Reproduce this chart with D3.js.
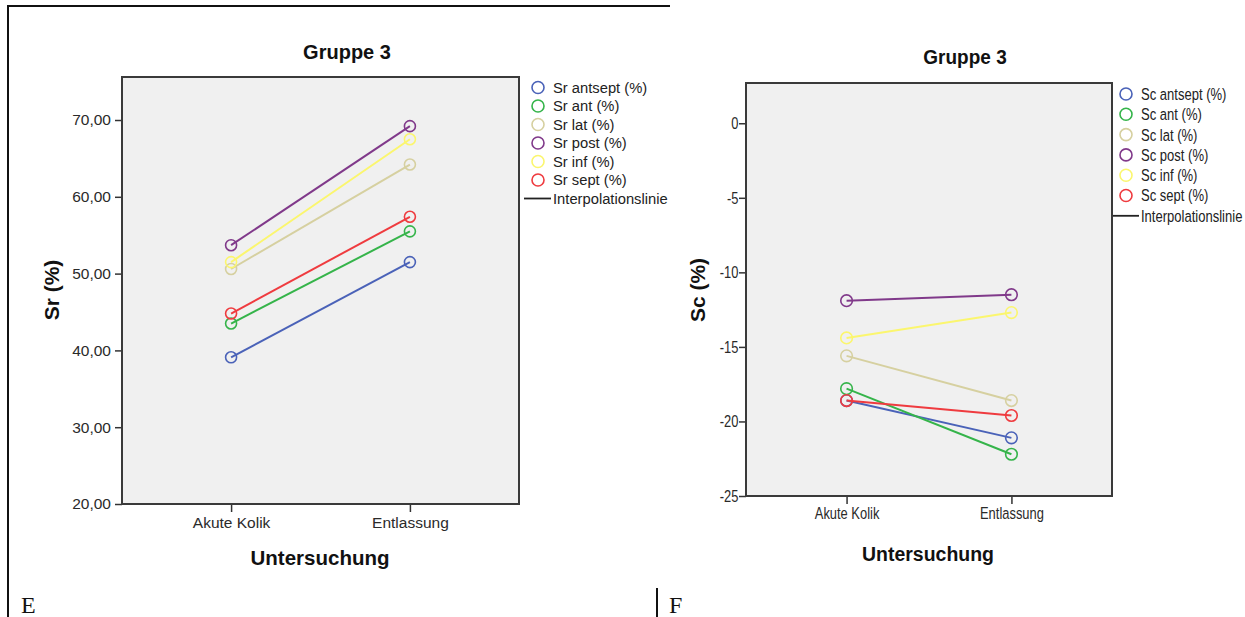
<!DOCTYPE html>
<html>
<head>
<meta charset="utf-8">
<script src="https://cdn.jsdelivr.net/npm/d3@7"></script>
<style>
  html, body { margin: 0; padding: 0; background: #ffffff; }
  svg { display: block; font-family: "Liberation Sans", Arial, sans-serif; }
</style>
</head>
<body>
<svg id="fig" width="1245" height="617"></svg>
<script>
// Visits on the x axis
const visits = ["Akute Kolik", "Entlassung"];

// Myocardial segments (one line per segment)
const segments = ["antsept", "ant", "lat", "post", "inf", "sept"];
const segmentColors = ["#4a62b8", "#35b44a", "#d6d0a0", "#80398a", "#fbf66e", "#ef3b3f"];

// Panel E: radial strain Sr (%) – mean per segment, [Akute Kolik, Entlassung]
const srAntsept = [39.1, 51.5];
const srAnt     = [43.5, 55.5];
const srLat     = [50.6, 64.2];
const srPost    = [53.7, 69.2];
const srInf     = [51.5, 67.5];
const srSept    = [44.8, 57.4];
const srTicks   = [20, 30, 40, 50, 60, 70];

// Panel F: circumferential strain Sc (%) – mean per segment
const scAntsept = [-18.6, -21.1];
const scAnt     = [-17.8, -22.2];
const scLat     = [-15.6, -18.6];
const scPost    = [-11.9, -11.5];
const scInf     = [-14.4, -12.7];
const scSept    = [-18.6, -19.6];
const scTicks   = [-25, -20, -15, -10, -5, 0];

const svg = d3.select("#fig");

// Place a text label, optionally rotated and horizontally squeezed
function label(g, x, y, str, o) {
  o = o || {};
  const t = g.append("text")
    .attr("transform", `translate(${x},${y}) rotate(${o.rotate || 0}) scale(${o.sx || 1},1)`)
    .attr("text-anchor", o.anchor || "start")
    .attr("font-size", o.size || 14)
    .attr("font-weight", o.weight || "normal")
    .attr("fill", o.fill || "#222")
    .text(str);
  if (o.dy) t.attr("dy", o.dy);
  return t;
}

function panel(cfg) {
  const g = svg.append("g");
  const x = d3.scalePoint().domain(visits).range([cfg.x0, cfg.x1]).padding(0.61);
  const y = d3.scaleLinear().domain(cfg.domain).range([cfg.y1, cfg.y0]);

  // plot background
  g.append("rect")
    .attr("x", cfg.x0).attr("y", cfg.y0)
    .attr("width", cfg.x1 - cfg.x0).attr("height", cfg.y1 - cfg.y0)
    .attr("fill", "#f0f0f0");

  // y axis
  const ya = g.append("g").attr("transform", `translate(${cfg.x0},0)`)
    .call(d3.axisLeft(y).tickValues(cfg.ticks).tickFormat(cfg.fmt)
      .tickSize(7).tickSizeOuter(0).tickPadding(cfg.yPad));
  ya.select(".domain").remove();
  ya.selectAll(".tick line").attr("stroke", "#333").attr("stroke-width", 1.5);
  ya.selectAll(".tick text").attr("font-size", cfg.tickSize).attr("fill", "#2a2a2a")
    .attr("font-family", "Liberation Sans, Arial, sans-serif")
    .attr("transform", `scale(${cfg.sx},1)`);

  // x axis
  const xa = g.append("g").attr("transform", `translate(0,${cfg.y1})`)
    .call(d3.axisBottom(x).tickSize(8).tickSizeOuter(0).tickPadding(cfg.xPad));
  xa.select(".domain").remove();
  xa.selectAll(".tick line").attr("stroke", "#333").attr("stroke-width", 1.5);
  xa.selectAll(".tick text").attr("font-size", cfg.tickSize).attr("fill", "#2a2a2a")
    .attr("font-family", "Liberation Sans, Arial, sans-serif")
    .attr("transform", `scale(${cfg.sx},1)`);

  // plot frame
  g.append("rect")
    .attr("x", cfg.x0).attr("y", cfg.y0)
    .attr("width", cfg.x1 - cfg.x0).attr("height", cfg.y1 - cfg.y0)
    .attr("fill", "none").attr("stroke", "#3a3a3a").attr("stroke-width", 2);

  // series lines and markers
  const line = d3.line().x((d, i) => x(visits[i])).y(d => y(d));
  cfg.series.forEach((vals, k) => {
    g.append("path").datum(vals)
      .attr("d", line).attr("fill", "none")
      .attr("stroke", segmentColors[k]).attr("stroke-width", 2);
    g.selectAll(null).data(vals).enter().append("circle")
      .attr("cx", (d, i) => x(visits[i])).attr("cy", d => y(d))
      .attr("r", cfg.r).attr("fill", "none")
      .attr("stroke", segmentColors[k]).attr("stroke-width", 1.6);
  });

  // titles
  label(g, cfg.titleX, cfg.titleY, "Gruppe 3", { size: 20, weight: "bold", anchor: "middle", fill: "#111", sx: cfg.titleSx });
  label(g, cfg.xtX, cfg.xtY, "Untersuchung", { size: 20.5, weight: "bold", anchor: "middle", fill: "#111", sx: cfg.titleSx });
  label(g, cfg.ytX, cfg.ytY, cfg.yTitle, { size: 21, weight: "bold", anchor: "middle", fill: "#111", rotate: -90 });

  // legend
  const lg = g.append("g");
  cfg.legendNames.forEach((name, k) => {
    const cy = cfg.legY + k * cfg.legStep;
    lg.append("circle").attr("cx", cfg.legCx).attr("cy", cy).attr("r", 6)
      .attr("fill", "none").attr("stroke", segmentColors[k]).attr("stroke-width", 1.6);
    label(lg, cfg.legTx, cy, name, { size: cfg.legSize, sx: cfg.legSx, dy: "0.36em", fill: "#222" });
  });
  const ly = cfg.legY + segments.length * cfg.legStep;
  lg.append("line").attr("x1", cfg.legLx0).attr("x2", cfg.legTx - 2)
    .attr("y1", ly).attr("y2", ly).attr("stroke", "#222").attr("stroke-width", 1.8);
  label(lg, cfg.legTx, ly, "Interpolationslinie", { size: cfg.legSize, sx: cfg.legSx, dy: "0.36em", fill: "#222" });
}

const commaFmt = d => d3.format(".2f")(d).replace(".", ",");
const plainFmt = d => String(d);

panel({
  x0: 122, x1: 519, y0: 77, y1: 504,
  domain: [20, 75.6], ticks: srTicks, fmt: commaFmt,
  series: [srAntsept, srAnt, srLat, srPost, srInf, srSept],
  tickSize: 15.5, sx: 1, yPad: 4, xPad: 5, r: 5.5,
  titleX: 347, titleY: 59, titleSx: 1,
  xtX: 320, xtY: 565, ytX: 59, ytY: 290, yTitle: "Sr (%)",
  legendNames: segments.map(s => `Sr ${s} (%)`),
  legCx: 538, legTx: 553, legLx0: 524, legY: 87.5, legStep: 18.5, legSize: 15.2, legSx: 0.97
});

panel({
  x0: 746, x1: 1112, y0: 83, y1: 496,
  domain: [-25, 2.7], ticks: scTicks, fmt: plainFmt,
  series: [scAntsept, scAnt, scLat, scPost, scInf, scSept],
  tickSize: 17, sx: 0.76, yPad: 3, xPad: 3, r: 5.8,
  titleX: 965, titleY: 64, titleSx: 0.95,
  xtX: 928, xtY: 561, ytX: 705, ytY: 290, yTitle: "Sc (%)",
  legendNames: segments.map(s => `Sc ${s} (%)`),
  legCx: 1126, legTx: 1141, legLx0: 1113, legY: 94, legStep: 20.3, legSize: 16.5, legSx: 0.79
});

// page frame and panel letters
const frame = svg.append("g").attr("stroke", "#111").attr("stroke-width", 2);
frame.append("line").attr("x1", 8).attr("x2", 670).attr("y1", 6).attr("y2", 6);
frame.append("line").attr("x1", 8).attr("x2", 8).attr("y1", 5).attr("y2", 617);
frame.append("line").attr("x1", 657).attr("x2", 657).attr("y1", 588).attr("y2", 617);

label(svg, 21, 613, "E", { size: 24, fill: "#111" }).attr("font-family", "Liberation Serif, Times New Roman, serif");
label(svg, 669, 613, "F", { size: 24, fill: "#111" }).attr("font-family", "Liberation Serif, Times New Roman, serif");
</script>
</body>
</html>
